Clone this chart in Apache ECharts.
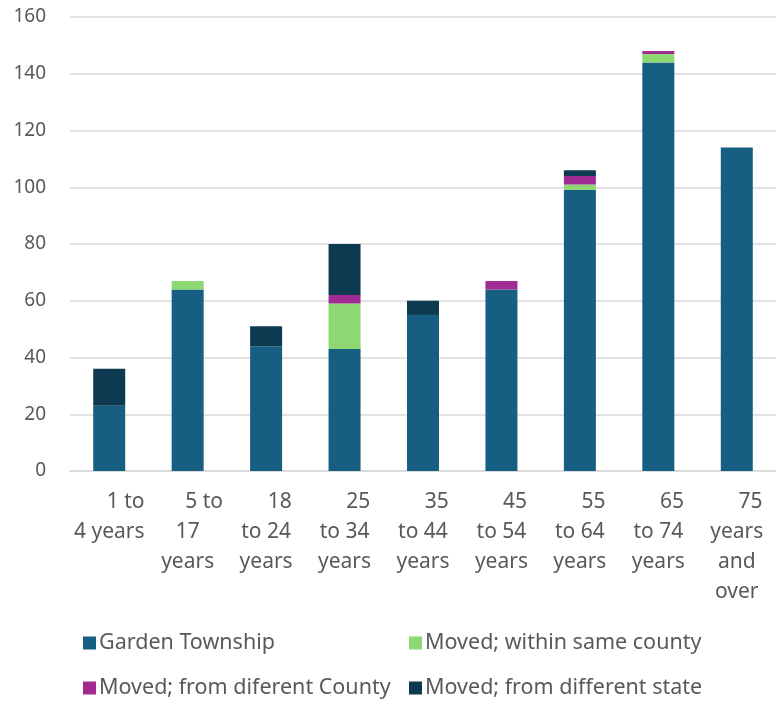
<!DOCTYPE html>
<html>
<head>
<meta charset="utf-8">
<script src="https://cdn.jsdelivr.net/npm/echarts@6/dist/echarts.min.js"></script>
<style>
  html, body { margin: 0; padding: 0; background: #fff; }
  #chart { width: 776px; height: 701px; }
</style>
</head>
<body>
<div id="chart"></div>
<script>
// age groups (line breaks follow the wrapped labels of the original)
var categories = [
  "      1 to\n4 years",
  "      5 to\n17\nyears",
  "     18\nto 24\nyears",
  "     25\nto 34\nyears",
  "     35\nto 44\nyears",
  "     45\nto 54\nyears",
  "     55\nto 64\nyears",
  "     65\nto 74\nyears",
  "     75\nyears\nand\nover"
];
var township = [23, 64, 44, 43, 55, 64, 99, 144, 114];
var sameCounty = [0, 3, 0, 16, 0, 0, 2, 3, 0];
var diffCounty = [0, 0, 0, 3, 0, 3, 3, 1, 0];
var diffState = [13, 0, 7, 18, 5, 0, 2, 0, 0];

var chart = echarts.init(document.getElementById("chart"));
var font = "Noto Sans";
var textColor = "#595959";

function bar(name, data, color) {
  return {
    name: name,
    type: "bar",
    stack: "total",
    barWidth: 32,
    itemStyle: { color: color },
    data: data
  };
}

// one legend box per entry so the 2x2 grid sits where it should
function legendItem(name, left, top) {
  return {
    left: left,
    top: top,
    itemWidth: 13,
    itemHeight: 13,
    itemGap: 0,
    icon: "rect",
    textStyle: { fontSize: 21.5, color: textColor, fontFamily: font, padding: [0, 0, 0, -2] },
    data: [name]
  };
}

chart.setOption({
  animation: false,
  textStyle: { fontFamily: font },
  grid: { left: 70, right: 0, top: 17, bottom: 230 },
  legend: [
    legendItem("Garden Township", 78, 627),
    legendItem("Moved; within same county", 404, 627),
    legendItem("Moved; from diferent County", 78, 672),
    legendItem("Moved; from different state", 404, 672)
  ],
  xAxis: {
    type: "category",
    data: categories,
    axisLine: { show: true, lineStyle: { color: "#d9d9d9", width: 1.5 } },
    axisTick: { show: false },
    axisLabel: {
      interval: 0,
      margin: 16,
      fontSize: 21,
      lineHeight: 30,
      color: textColor,
      fontFamily: font
    }
  },
  yAxis: {
    type: "value",
    min: 0,
    max: 160,
    interval: 20,
    axisLine: { show: false },
    axisTick: { show: false },
    splitLine: { lineStyle: { color: "#d9d9d9", width: 1.5 } },
    axisLabel: { fontSize: 19, color: textColor, margin: 24, fontFamily: font }
  },
  series: [
    bar("Garden Township", township, "#175f82"),
    bar("Moved; within same county", sameCounty, "#8ed873"),
    bar("Moved; from diferent County", diffCounty, "#a02b93"),
    bar("Moved; from different state", diffState, "#0e3a51")
  ]
});
</script>
</body>
</html>
